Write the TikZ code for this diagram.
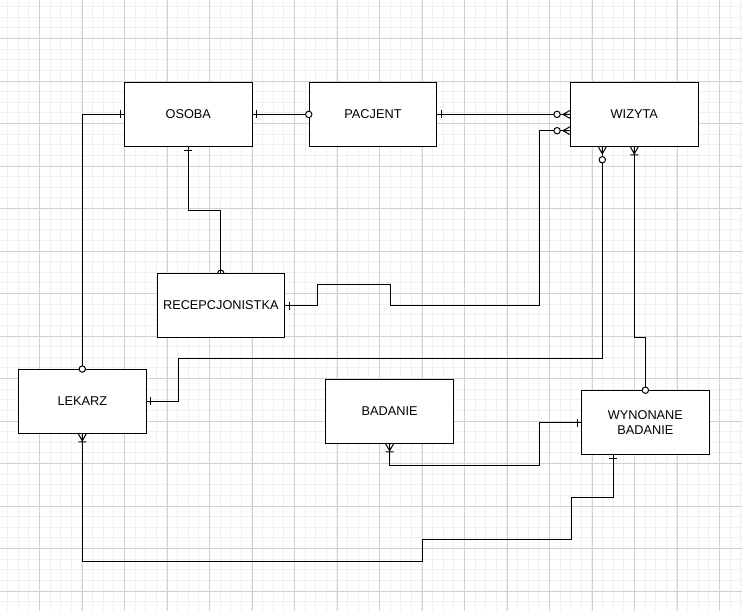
\documentclass[tikz,border=0pt]{standalone}
\usepackage{fontspec}
\setmainfont{Liberation Sans}
\usepackage{tikz}
\usetikzlibrary{backgrounds}

\begin{document}
\begin{tikzpicture}[x=1pt, y=-1pt,
  entity/.style={draw, fill=white, line width=1pt, minimum width=127.5pt,
    minimum height=63.75pt, inner sep=0pt, align=center,
    font=\fontsize{12.75}{15}\selectfont},
  link/.style={line width=1pt},
  mark one/.pic={\draw[link] (4,-4) -- (4,4);},
  mark zero/.pic={\draw[link, fill=white] (0,0) circle[radius=3.2];},
  mark one many/.pic={\draw[link] (0,-4) -- (7,0) -- (0,4) (0,0) -- (7,0) (8,-4) -- (8,4);},
  mark zero many/.pic={\draw[link] (0,-4) -- (7,0) -- (0,4) (0,0) -- (7,0);
    \draw[link, fill=white] (13,0) circle[radius=3.2];}]
% Define constants
\def\minorstep{10.625}
\def\majorstep{42.5}
\useasboundingbox (0,0) rectangle (742,611);

% Draw grid
\begin{scope}[on background layer]
\fill[white] (0,0) rectangle (742,611);
\foreach \k in {0,...,69} \draw[black!6] ({7.3+\k*\minorstep},0) -- ++(0,611);
\foreach \k in {0,...,56} \draw[black!6] (0,{6.4+\k*\minorstep}) -- ++(742,0);
\foreach \k in {0,...,16} \draw[black!18] ({39.3+\k*\majorstep},0) -- ++(0,611);
\foreach \k in {0,...,13} \draw[black!18] (0,{38.3+\k*\majorstep}) -- ++(742,0);
\end{scope}

% Entities
\node[entity] (Osoba) at (188.3,114.4) {OSOBA};
\node[entity] (Pacjent) at (373,114.4) {PACJENT};
\node[entity] (Wizyta) at (634.3,114.4) {WIZYTA};
\node[entity] (Recepcjonistka) at (220.8,305.6) {RECEPCJONISTKA};
\node[entity] (Lekarz) at (82.3,401.4) {LEKARZ};
\node[entity] (Badanie) at (389.6,411.4) {BADANIE};
\node[entity] (Wynonane) at (645.4,422.6) {WYNONANE\\BADANIE};

% Side points for the second links
\coordinate (WizytaLow) at ([yshift=-16.3pt]Wizyta.west);
\coordinate (WizytaFoot) at ([xshift=-32pt]Wizyta.south);
\coordinate (WynonaneFoot) at ([xshift=-32pt]Wynonane.south);

% Draw relations
\draw[link] (Osoba.west) -| (Lekarz.north);
\draw[link] (Osoba.east) -- (Pacjent.west);
\draw[link] (Osoba.south) -- ++(0,63.7) -| (Recepcjonistka.north);
\draw[link] (Pacjent.east) -- (Wizyta.west);
\draw[link] (Recepcjonistka.east) -- ++(32,0) |- (390,284.7) |- (539,305.6) |- (WizytaLow);
\draw[link] (Lekarz.east) -- ++(31.5,0) |- (602.3,358.7) -- (WizytaFoot);
\draw[link] (Wizyta.south) -- ++(0,190.9) -| (Wynonane.north);
\draw[link] (Badanie.south) |- (539,465) |- (Wynonane.west);
\draw[link] (WynonaneFoot) |- (571.5,497) |- (422,539.5) |- (82.3,561) -- (Lekarz.south);

% Relation ends
\pic[rotate=180] at (Osoba.west) {mark one};
\pic at (Lekarz.north) {mark zero};
\pic at (Osoba.east) {mark one};
\pic at (Pacjent.west) {mark zero};
\pic[rotate=-90] at (Osoba.south) {mark one};
\begin{scope}[on background layer]
\pic at (Recepcjonistka.north) {mark zero};
\end{scope}
\pic at (Pacjent.east) {mark one};
\pic[rotate=180] at (Wizyta.west) {mark zero many};
\pic at (Recepcjonistka.east) {mark one};
\pic[rotate=180] at (WizytaLow) {mark zero many};
\pic at (Lekarz.east) {mark one};
\pic[rotate=-90] at (WizytaFoot) {mark zero many};
\pic[rotate=-90] at (Wizyta.south) {mark one many};
\pic at (Wynonane.north) {mark zero};
\pic[rotate=-90] at (Badanie.south) {mark one many};
\pic[rotate=180] at (Wynonane.west) {mark one};
\pic[rotate=-90] at (WynonaneFoot) {mark one};
\pic[rotate=-90] at (Lekarz.south) {mark one many};
\end{tikzpicture}
\end{document}
